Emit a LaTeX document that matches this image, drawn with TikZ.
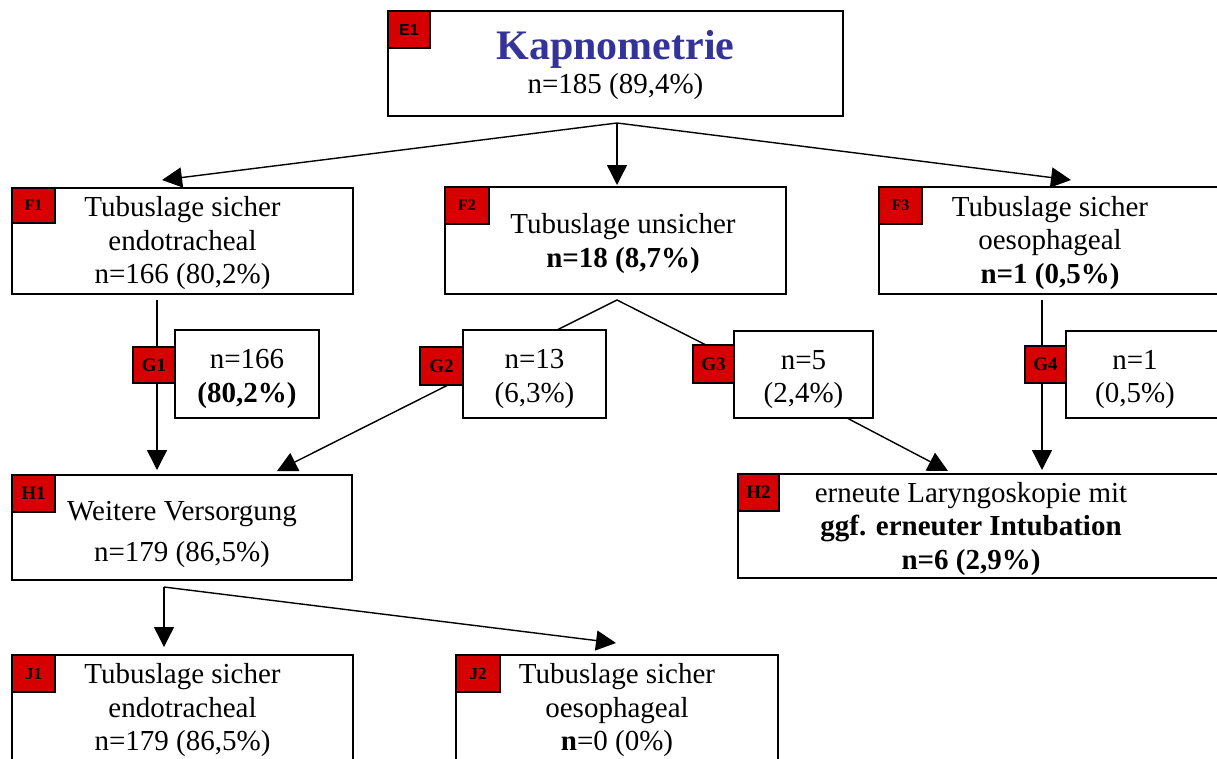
\documentclass[tikz,border=0pt]{standalone}
\usepackage{fontspec}
\setmainfont{Liberation Serif}
\newfontfamily\labsans{Liberation Sans}
\usetikzlibrary{arrows.meta}
\definecolor{labred}{RGB}{214,0,0}
\definecolor{kblue}{RGB}{51,51,153}
\newcommand{\toph}[1]{\rule{0pt}{#1}}
\begin{document}
\begin{tikzpicture}[x=1pt,y=-1pt,
  box/.style={draw,line width=1.6pt,fill=white,inner sep=0pt,outer sep=0pt,anchor=north west,align=center,font=\fontsize{29}{33.5}\selectfont},
  tag/.style={draw,line width=1.6pt,fill=labred,inner sep=0pt,outer sep=0pt,anchor=north west,font=\bfseries\fontsize{19}{19}\selectfont},
  conn/.style={line width=1.4pt},
  arr/.style={conn,-{Triangle[width=20pt,length=20pt]}}]
\useasboundingbox (0,0) rectangle (1217,758);

% boxes
\node[box,minimum width=455pt,minimum height=105pt] (E1) at (388,11)
  {\toph{32pt}{\fontsize{42}{46}\selectfont\bfseries\color{kblue}Kapnometrie}\\[1pt]n=185 (89,4\%)};
\node[box,minimum width=341pt,minimum height=106pt] (F1) at (12,188)
  {\toph{25pt}Tubuslage sicher\\endotracheal\\n=166 (80,2\%)};
\node[box,minimum width=341pt,minimum height=107pt] (F2) at (445,187)
  {\hspace*{15pt}\toph{26pt}Tubuslage unsicher\\\hspace*{15pt}\textbf{n=18 (8,7\%)}};
\node[box,minimum width=342pt,minimum height=107pt] (F3) at (879,187)
  {\toph{25pt}Tubuslage sicher\\oesophageal\\\textbf{n=1 (0,5\%)}};
\node[box,minimum width=144pt,minimum height=88pt] (G1) at (175,330)
  {\toph{29pt}n=166\\\textbf{(80,2\%)}};
\node[box,minimum width=143pt,minimum height=88pt] (G2) at (463,330)
  {\toph{29pt}n=13\\(6,3\%)};
\node[box,minimum width=139pt,minimum height=87pt] (G3) at (734,331)
  {\toph{29pt}n=5\\(2,4\%)};
\node[box,minimum width=158pt,minimum height=87pt] (G4) at (1066,331)
  {\toph{29pt}n=1\hspace{20pt}\mbox{}\\(0,5\%)\hspace{20pt}\mbox{}};
\node[box,minimum width=340pt,minimum height=105pt] (H1) at (12,475)
  {\toph{33pt}Weitere Versorgung\\[8pt]n=179 (86,5\%)};
\node[box,minimum width=486pt,minimum height=104pt] (H2) at (738,474)
  {\toph{26pt}erneute Laryngoskopie mit\hspace{20pt}\mbox{}\\\textbf{ggf. erneuter Intubation}\hspace{20pt}\mbox{}\\\textbf{n=6 (2,9\%)}\hspace{20pt}\mbox{}};
\node[box,minimum width=341pt,minimum height=106pt] (J1) at (12,655)
  {\toph{25pt}Tubuslage sicher\\endotracheal\\n=179 (86,5\%)};
\node[box,minimum width=322pt,minimum height=106pt] (J2) at (456,655)
  {\toph{25pt}Tubuslage sicher\\oesophageal\\\textbf{n}=0 (0\%)};

% connector points
\coordinate (eFork) at (617,123);
\coordinate (f1tip) at (162,180);
\coordinate (f2tip) at (617,185);
\coordinate (f3tip) at (1071,180);
\coordinate (f1out) at (157,300);
\coordinate (h1inA) at (157,470);
\coordinate (f2apex) at (617,300);
\coordinate (g2in) at (557,330);
\coordinate (g3in) at (706,345);
\coordinate (g2out) at (448,385);
\coordinate (h1inB) at (277,471);
\coordinate (g3out) at (847,418);
\coordinate (h2inA) at (948,471);
\coordinate (f3out) at (1042,300);
\coordinate (h2inB) at (1042,470);
\coordinate (hFork) at (164,587);
\coordinate (j1tip) at (164,647);
\coordinate (j2tip) at (616,643);

% connectors
\draw[arr] (eFork) -- (f1tip);
\draw[arr] (eFork) -- (f2tip);
\draw[arr] (eFork) -- (f3tip);
\draw[arr] (f1out) -- (h1inA);
\draw[conn] (g2in) -- (f2apex) -- (g3in);
\draw[arr] (g2out) -- (h1inB);
\draw[arr] (g3out) -- (h2inA);
\draw[arr] (f3out) -- (h2inB);
\draw[arr] (hFork) -- (j1tip);
\draw[arr] (hFork) -- (j2tip);

% tags
\node[tag,minimum width=42pt,minimum height=37pt,font=\labsans\bfseries\fontsize{16}{16}\selectfont] (tE1) at (388,11) {E1};
\node[tag,minimum width=43pt,minimum height=35pt,font=\bfseries\fontsize{16}{16}\selectfont] (tF1) at (12,188) {F1};
\node[tag,minimum width=44pt,minimum height=37pt,font=\bfseries\fontsize{16}{16}\selectfont] (tF2) at (445,187) {F2};
\node[tag,minimum width=43pt,minimum height=37pt,font=\bfseries\fontsize{16}{16}\selectfont] (tF3) at (879,187) {F3};
\node[tag,minimum width=42pt,minimum height=36pt] (tG1) at (133,347) {G1};
\node[tag,minimum width=43pt,minimum height=38pt] (tG2) at (420,347) {G2};
\node[tag,minimum width=41pt,minimum height=38pt] (tG3) at (693,345) {G3};
\node[tag,minimum width=41pt,minimum height=37pt] (tG4) at (1025,346) {G4};
\node[tag,minimum width=43pt,minimum height=37pt] (tH1) at (12,475) {H1};
\node[tag,minimum width=41pt,minimum height=37pt] (tH2) at (738,474) {H2};
\node[tag,minimum width=43pt,minimum height=37pt,font=\bfseries\fontsize{17}{17}\selectfont] (tJ1) at (12,655) {J1};
\node[tag,minimum width=44pt,minimum height=37pt,font=\bfseries\fontsize{17}{17}\selectfont] (tJ2) at (456,655) {J2};
\end{tikzpicture}
\end{document}
